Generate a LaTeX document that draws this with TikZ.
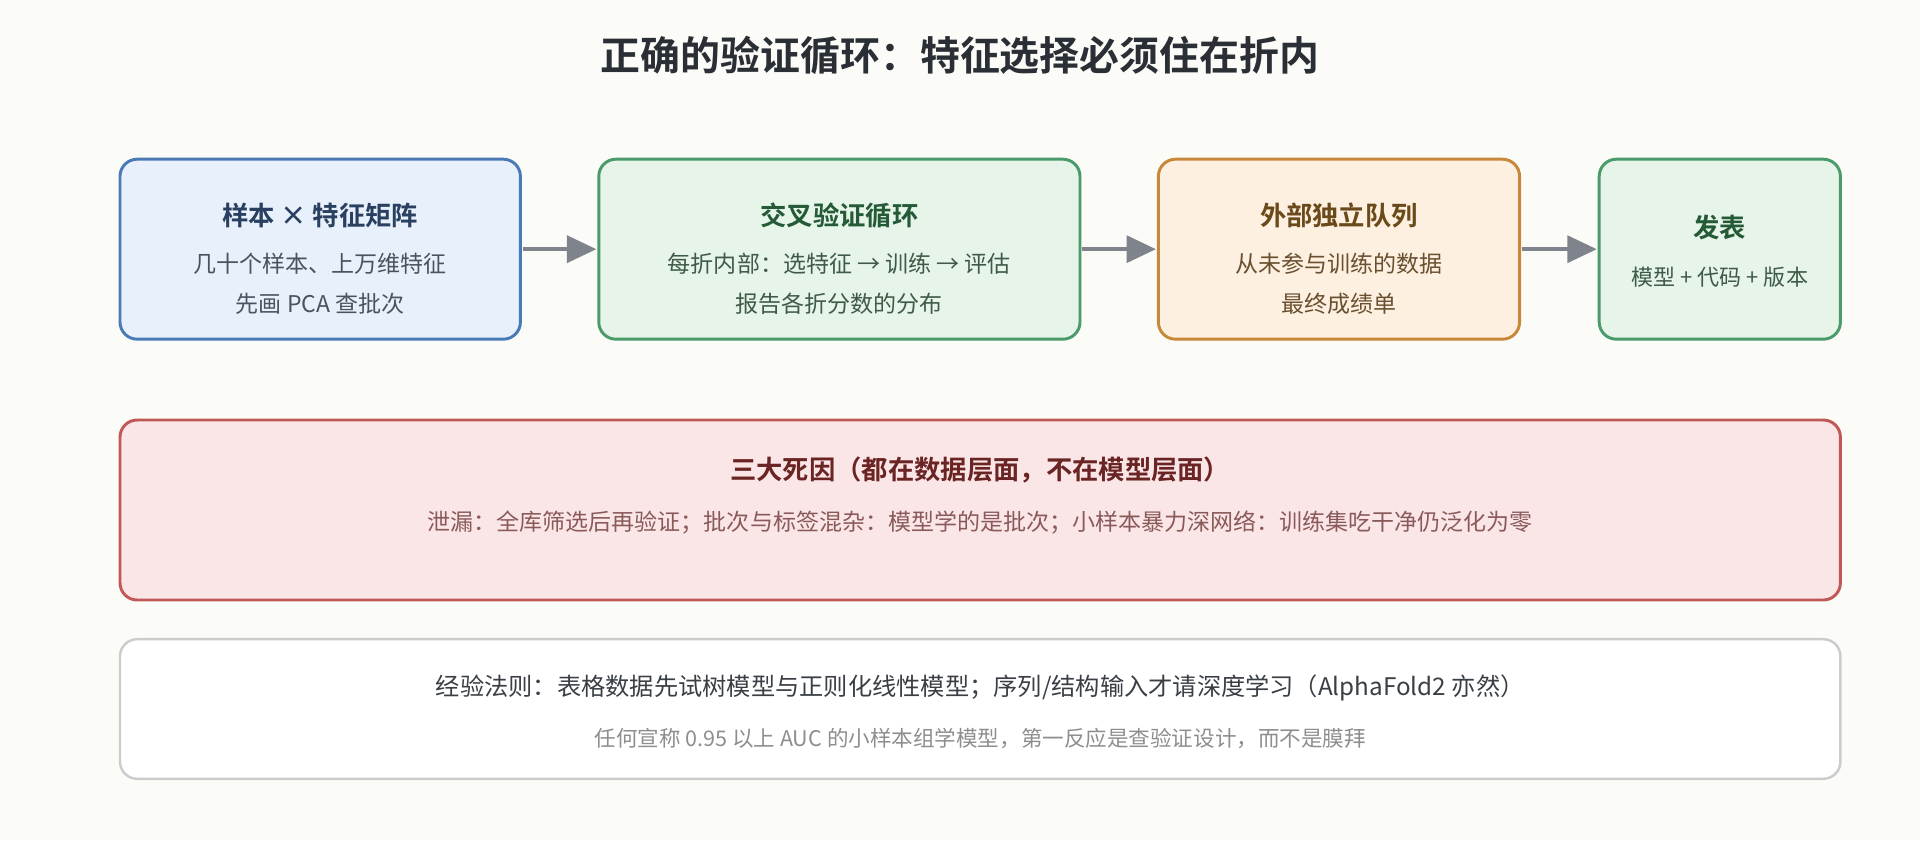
\documentclass[tikz,border=0pt]{standalone}
\usepackage{fontspec}
\setmainfont{Noto Sans CJK SC}[BoldFont={Noto Sans CJK SC Bold}]
\usetikzlibrary{arrows.meta,positioning}
\definecolor{bgcol}{HTML}{FBFBF7}
\definecolor{blueline}{HTML}{4A7AB5}
\definecolor{bluefill}{HTML}{E8F0FB}
\definecolor{greenline}{HTML}{4A9A6A}
\definecolor{greenfill}{HTML}{E6F4EA}
\definecolor{orangeline}{HTML}{C8883A}
\definecolor{orangefill}{HTML}{FDF0E0}
\definecolor{redline}{HTML}{C05858}
\definecolor{redfill}{HTML}{FBE6E7}
\definecolor{grayline}{HTML}{CCCCCC}
\definecolor{arrowgray}{HTML}{7F838C}
\tikzset{
    stage/.style={rectangle, rounded corners=14pt, line width=2.4pt, align=center, inner sep=0pt},
    flow/.style={-{Triangle[length=24pt,width=22pt]}, line width=3pt, arrowgray}
}
\begin{document}
\begin{tikzpicture}[x=1pt,y=-1pt]
\useasboundingbox[fill=bgcol] (0,0) rectangle (1568,686);
% Title
\node (title) at (784,45) {\fontsize{32.6}{38}\selectfont\bfseries\color[HTML]{2A2F36}正确的验证循环：特征选择必须住在折内};

% Stage boxes
\draw[stage, draw=blueline, fill=bluefill] (98,130) rectangle (425,277);
\draw[stage, draw=greenline, fill=greenfill] (489,130) rectangle (882,277);
\draw[stage, draw=orangeline, fill=orangefill] (946,130) rectangle (1241,277);
\draw[stage, draw=greenline, fill=greenfill] (1306,130) rectangle (1503,277);

\node at (261.5,176) {\fontsize{21.5}{26}\selectfont\bfseries\color[HTML]{2A4060}样本 × 特征矩阵};
\node at (261.5,215) {\fontsize{18.8}{22}\selectfont\color[HTML]{4A5360}几十个样本、上万维特征};
\node at (261.5,248) {\fontsize{18.8}{22}\selectfont\color[HTML]{4A5360}先画 PCA 查批次};

\node at (685.5,176) {\fontsize{21.5}{26}\selectfont\bfseries\color[HTML]{245A35}交叉验证循环};
\node at (685.5,215) {\fontsize{18.8}{22}\selectfont\color[HTML]{3F5A48}每折内部：选特征 → 训练 → 评估};
\node at (685.5,248) {\fontsize{18.8}{22}\selectfont\color[HTML]{3F5A48}报告各折分数的分布};

\node at (1093.5,176) {\fontsize{21.5}{26}\selectfont\bfseries\color[HTML]{6A4A1A}外部独立队列};
\node at (1093.5,215) {\fontsize{18.8}{22}\selectfont\color[HTML]{6A5030}从未参与训练的数据};
\node at (1093.5,248) {\fontsize{18.8}{22}\selectfont\color[HTML]{6A5030}最终成绩单};

\node at (1404.5,186) {\fontsize{21.5}{26}\selectfont\bfseries\color[HTML]{245A35}发表};
\node at (1404.5,226) {\fontsize{18}{22}\selectfont\color[HTML]{3F5A48}模型 + 代码 + 版本};

% Arrows
\coordinate (a1) at (427,203.5); \coordinate (b1) at (487,203.5);
\coordinate (a2) at (884,203.5); \coordinate (b2) at (944,203.5);
\coordinate (a3) at (1243,203.5); \coordinate (b3) at (1304,203.5);
\draw[flow] (a1) -- (b1);
\draw[flow] (a2) -- (b2);
\draw[flow] (a3) -- (b3);

% Pitfalls
\draw[stage, draw=redline, fill=redfill] (98,343) rectangle (1503,490);
\node (pitfall) at (800.5,384) {\fontsize{21.5}{26}\selectfont\bfseries\color[HTML]{6A2424}三大死因（都在数据层面，不在模型层面）};
\node at (800.5,427) {\fontsize{18.8}{22}\selectfont\color[HTML]{8A5A5A}泄漏：全库筛选后再验证；批次与标签混杂：模型学的是批次；小样本暴力深网络：训练集吃干净仍泛化为零};

% Rule of thumb
\draw[stage, line width=2pt, draw=grayline, fill=white] (98,522) rectangle (1503,636);
\node (rule) at (800.5,562) {\fontsize{19.8}{24}\selectfont\color[HTML]{3A3F46}经验法则：表格数据先试树模型与正则化线性模型；序列/结构输入才请深度学习（AlphaFold2 亦然）};
\node at (800.5,603) {\fontsize{17.6}{22}\selectfont\color[HTML]{8E8E8E}任何宣称 0.95 以上 AUC 的小样本组学模型，第一反应是查验证设计，而不是膜拜};
\end{tikzpicture}
\end{document}
